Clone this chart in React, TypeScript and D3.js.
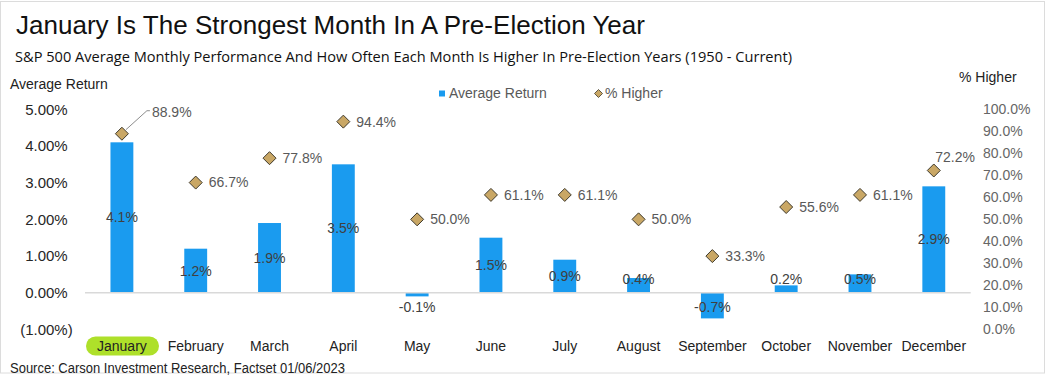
import React from "react";
import * as d3 from "d3";

const months = ["January","February","March","April","May","June","July","August","September","October","November","December"];
const avgReturn = [4.1, 1.2, 1.9, 3.5, -0.1, 1.5, 0.9, 0.4, -0.7, 0.2, 0.5, 2.9];
const pctHigher = [88.9, 66.7, 77.8, 94.4, 50.0, 61.1, 61.1, 50.0, 33.3, 55.6, 61.1, 72.2];
const leftTicks = [-1, 0, 1, 2, 3, 4, 5];
const rightTicks = [0, 10, 20, 30, 40, 50, 60, 70, 80, 90, 100];

const TITLE = "January Is The Strongest Month In A Pre-Election Year";
const SUBTITLE = "S&P 500 Average Monthly Performance And How Often Each Month Is Higher In Pre-Election Years (1950 - Current)";
const SOURCE = "Source: Carson Investment Research, Factset 01/06/2023";

const W = 1049, H = 379;
const BAR = "#1a9bef";
const DIA_FILL = "#c9a765";
const DIA_STROKE = "#3f3a2c";
const FONT = "'Liberation Sans', Arial, sans-serif";

export default function App() {
  const x = d3.scaleBand<string>().domain(months).range([85, 970.7]).paddingInner(0.69).paddingOuter(0.345);
  const y = d3.scaleLinear().domain([-1, 5]).range([329.4, 109.3]);
  const y2 = d3.scaleLinear().domain([0, 100]).range([329.4, 109.3]);
  const bw = x.bandwidth();
  const zero = y(0);
  const fmtL = (v: number) => (v < 0 ? `(${(-v).toFixed(2)}%)` : `${v.toFixed(2)}%`);
  const fmtR = (v: number) => `${v.toFixed(1)}%`;
  const diamond = (cx: number, cy: number, r: number) =>
    `M${cx},${cy - r}L${cx + r},${cy}L${cx},${cy + r}L${cx - r},${cy}Z`;

  return (
    <svg width={W} height={H} style={{ position: "absolute", left: 0, top: 0, background: "#fff" }} fontFamily={FONT}>
      <rect x={0.5} y={1.5} width={1044} height={371.5} fill="#fff" stroke="#dcdcdc" strokeWidth={1} />
      <text x={16} y={34} fontSize={25} fill="#111" textLength={629} lengthAdjust="spacingAndGlyphs">{TITLE}</text>
      <text x={15} y={61.5} fontSize={14} fill="#111" fontFamily="'Open Sans', 'Noto Sans', sans-serif" textLength={777} lengthAdjust="spacingAndGlyphs">{SUBTITLE}</text>

      <text x={10} y={88.5} fontSize={14} fill="#222">Average Return</text>
      <text x={959} y={81.5} fontSize={14} fill="#222">% Higher</text>

      {/* legend */}
      <rect x={439} y={90.5} width={6} height={6} fill={BAR} />
      <text x={449} y={93.5} dy="0.35em" fontSize={14} fill="#595959">Average Return</text>
      <path d={diamond(598.5, 93.5, 4)} fill={DIA_FILL} stroke={DIA_STROKE} strokeWidth={0.8} />
      <text x={605} y={93.5} dy="0.35em" fontSize={14} fill="#595959">% Higher</text>

      {/* left axis */}
      {leftTicks.map((t) => (
        <text key={t} x={t < 0 ? 72.7 : 67.7} y={y(t)} dy="0.35em" textAnchor="end" fontSize={15} fill="#262626">{fmtL(t)}</text>
      ))}
      {/* right axis */}
      {rightTicks.map((t) => (
        <text key={t} x={983} y={y2(t)} dy="0.35em" fontSize={14} fill="#666">{fmtR(t)}</text>
      ))}

      {/* bars */}
      {months.map((m, i) => {
        const v = avgReturn[i];
        const y0 = Math.min(y(v), zero);
        const h = Math.abs(y(v) - zero);
        return <rect key={m} x={x(m)} y={y0} width={bw} height={h} fill={BAR} />;
      })}
      <line x1={85} x2={970.7} y1={zero} y2={zero} stroke="#d9d9d9" strokeWidth={1.5} />

      {/* bar labels */}
      {months.map((m, i) => {
        const v = avgReturn[i];
        let cy = (y(v) + zero) / 2;
        if (v >= 0) cy = Math.min(cy, zero - 13.5);
        else cy = Math.max(cy, zero + 14);
        return (
          <text key={m} x={(x(m) as number) + bw / 2} y={cy} dy="0.35em" textAnchor="middle" fontSize={14} fill="#404040">
            {`${v.toFixed(1)}%`}
          </text>
        );
      })}

      {/* diamonds */}
      {months.map((m, i) => {
        const cx = (x(m) as number) + bw / 2;
        const cy = y2(pctHigher[i]);
        return <path key={m} d={diamond(cx, cy, 6.5)} fill={DIA_FILL} stroke={DIA_STROKE} strokeWidth={1} />;
      })}
      {months.map((m, i) => {
        const cx = (x(m) as number) + bw / 2;
        const cy = y2(pctHigher[i]);
        const label = `${pctHigher[i].toFixed(1)}%`;
        if (i === 0) {
          return (
            <g key={m}>
              <polyline points={`${cx + 4},${cy - 4} ${cx + 25},${cy - 23} ${cx + 28},${cy - 23}`} fill="none" stroke="#8c8c8c" strokeWidth={1} />
              <text x={cx + 30} y={cy - 22} dy="0.35em" fontSize={14} fill="#595959">{label}</text>
            </g>
          );
        }
        if (i === 11) {
          return <text key={m} x={cx + 1.5} y={cy - 13} dy="0.35em" fontSize={14} fill="#595959">{label}</text>;
        }
        return <text key={m} x={cx + 13} y={cy} dy="0.35em" fontSize={14} fill="#595959">{label}</text>;
      })}

      {/* month labels */}
      <rect x={86} y={336.5} width={73} height={19} rx={9.5} ry={9.5} fill="#aee02a" />
      {months.map((m) => (
        <text key={m} x={(x(m) as number) + bw / 2} y={351} textAnchor="middle" fontSize={14} fill="#222">{m}</text>
      ))}

      <text x={10} y={373} fontSize={14} fill="#222" textLength={335} lengthAdjust="spacingAndGlyphs">{SOURCE}</text>
    </svg>
  );
}
